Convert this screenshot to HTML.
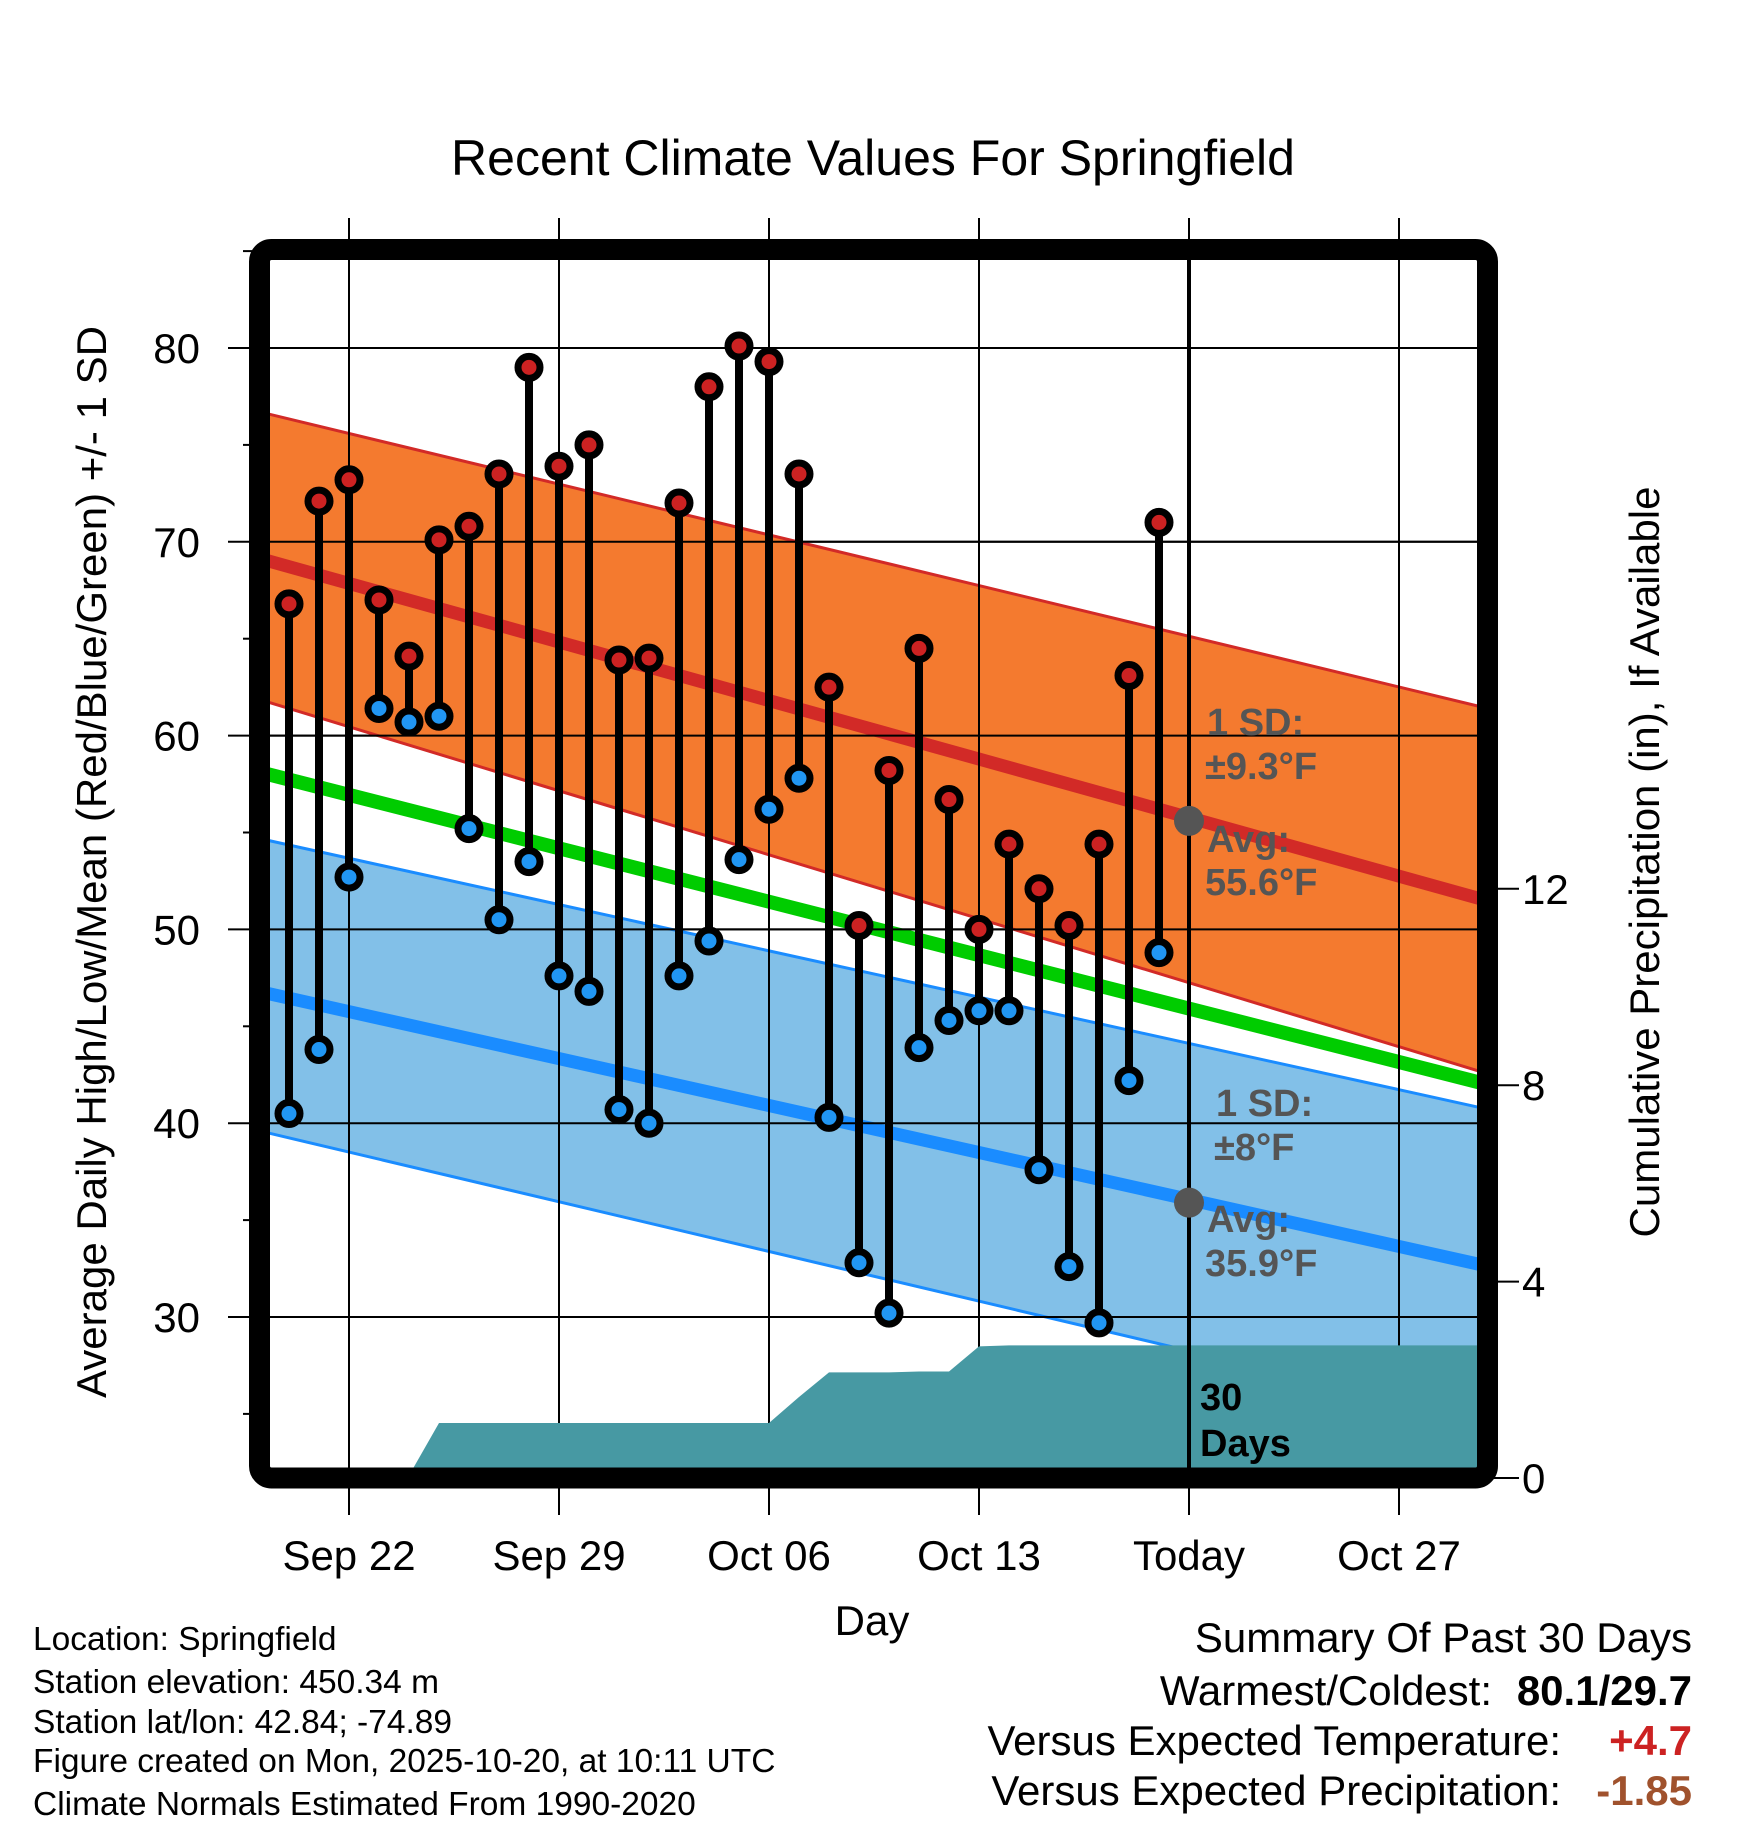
<!DOCTYPE html>
<html><head><meta charset="utf-8"><style>
html,body{margin:0;padding:0;background:#fff}
svg{display:block;font-family:"Liberation Sans",Arial,sans-serif}
</style></head><body>
<svg id="chart" width="1748" height="1828" viewBox="0 0 1748 1828" xmlns="http://www.w3.org/2000/svg">
<defs><clipPath id="plotclip"><rect x="270" y="260" width="1208" height="1208"/></clipPath></defs>
<text x="873" y="175" font-size="50" text-anchor="middle">Recent Climate Values For Springfield</text>
<g id="grid"></g>
<g id="plot" clip-path="url(#plotclip)"></g>
<g id="marks"></g>
<rect x="259.5" y="249.5" width="1228" height="1228.5" rx="12" fill="none" stroke="#000" stroke-width="21"/>
<g id="axes"></g>
<text transform="translate(106,862) rotate(-90)" font-size="42" text-anchor="middle">Average Daily High/Low/Mean (Red/Blue/Green) +/- 1 SD</text>
<text transform="translate(1659,862) rotate(-90)" font-size="42" text-anchor="middle">Cumulative Precipitation (in), If Available</text>
<text x="872" y="1635" font-size="42" text-anchor="middle">Day</text>
<g font-size="33.5">
<text x="33" y="1650">Location: Springfield</text>
<text x="33" y="1693">Station elevation: 450.34 m</text>
<text x="33" y="1733">Station lat/lon: 42.84; -74.89</text>
<text x="33" y="1772">Figure created on Mon, 2025-10-20, at 10:11 UTC</text>
<text x="33" y="1815">Climate Normals Estimated From 1990-2020</text>
</g>
<g font-size="42" text-anchor="end">
<text x="1692" y="1652">Summary Of Past 30 Days</text>
<text x="1492" y="1705">Warmest/Coldest:</text>
<text x="1692" y="1705" font-weight="bold">80.1/29.7</text>
<text x="1561" y="1755">Versus Expected Temperature:</text>
<text x="1692" y="1755" font-weight="bold" fill="#cc2222">+4.7</text>
<text x="1561" y="1805">Versus Expected Precipitation:</text>
<text x="1692" y="1805" font-weight="bold" fill="#a0522d">-1.85</text>
</g>
</svg>
<script>
const dayOffsets = [-2,-1,0,1,2,3,4,5,6,7,8,9,10,11,12,13,14,15,16,17,18,19,20,21,22,23,24,25,26,27];
const highs = [66.8,72.1,73.2,67.0,64.1,70.1,70.8,73.5,79.0,73.9,75.0,63.9,64.0,72.0,78.0,80.1,79.3,73.5,62.5,50.2,58.2,64.5,56.7,50.0,54.4,52.1,50.2,54.4,63.1,71.0];
const lows = [40.5,43.8,52.7,61.4,60.7,61.0,55.2,50.5,53.5,47.6,46.8,40.7,40.0,47.6,49.4,53.6,56.2,57.8,40.3,32.8,30.2,43.9,45.3,45.8,45.8,37.6,32.6,29.7,42.2,48.8];
const precipCum = [0,0,0,0,0.05,1.12,1.12,1.12,1.12,1.12,1.12,1.12,1.12,1.12,1.12,1.12,1.12,1.65,2.15,2.15,2.15,2.17,2.17,2.68,2.7,2.7,2.7,2.7,2.7,2.7];
const xTickDays = [0,7,14,21,28,35];
const xTickLabels = ["Sep 22","Sep 29","Oct 06","Oct 13","Today","Oct 27"];
const yTicks = [30,40,50,60,70,80];
const yMinorTicks = [25,35,45,55,65,75,85];
const pTicks = [0,4,8,12];
// normals at left (day -2.63) and right (day 37.63) edges
const normalEdgeDays = [-2.63,37.63];
const hiMean = [68.9,51.7];
const hiUpper = [76.5,61.6];
const hiLower = [61.6,42.8];
const loMean = [46.6,32.8];
const loUpper = [54.5,40.9];
const loLower = [39.4,24.8];
const meanLine = [57.9,42.2];
const todayDay = 28;
const todayHiAvg = 55.6, todayLoAvg = 35.9;

const NS="http://www.w3.org/2000/svg";
const X = d => 349 + d*30;
const Y = v => 348 + (80 - v)*19.38;
const P = p => 1478 - p*49.1;
function mk(tag, attrs, parent){const e=document.createElementNS(NS,tag);for(const k in attrs)e.setAttribute(k,attrs[k]);parent.appendChild(e);return e;}
const grid=document.getElementById('grid'), plot=document.getElementById('plot'), marks=document.getElementById('marks'), axes=document.getElementById('axes');

xTickDays.forEach((d,i)=>{
  const l=mk('line',{x1:X(d),x2:X(d),y1:218,y2:1515,stroke:'#000','stroke-width':2},grid);
  
  
  const t=mk('text',{x:X(d),y:1570,'font-size':42,'text-anchor':'middle'},axes);
  t.textContent=xTickLabels[i];
  
  
});
yTicks.forEach(v=>{
  const l=mk('line',{x1:228,x2:1478,y1:Y(v),y2:Y(v),stroke:'#000','stroke-width':2},grid);
  
  
  const t=mk('text',{x:200,y:Y(v)+15,'font-size':42,'text-anchor':'end'},axes);
  t.textContent=v;
  
  
});
yMinorTicks.forEach(v=>{
  const l=mk('line',{x1:243,x2:252,y1:Y(v),y2:Y(v),stroke:'#000','stroke-width':2},grid);
  
  
});
pTicks.forEach(p=>{
  const l=mk('line',{x1:1490,x2:1519,y1:P(p),y2:P(p),stroke:'#000','stroke-width':2},axes);
  
  
  const t=mk('text',{x:1522,y:P(p)+15,'font-size':42},axes);
  t.textContent=p;
  
  
});

const xl=X(normalEdgeDays[0])-5, xr=X(normalEdgeDays[1])+5;
function slope(a){return (a[1]-a[0])/(normalEdgeDays[1]-normalEdgeDays[0]);}
function at(a,d){return a[0]+slope(a)*(d-normalEdgeDays[0]);}
function band(up,lo,fill,stroke,name){
  const d=`M${xl},${Y(at(up,-3))} L${xr},${Y(at(up,38))} L${xr},${Y(at(lo,38))} L${xl},${Y(at(lo,-3))} Z`;
  const p=mk('path',{d,fill,stroke:'none'},plot);
  
  
  [up,lo].forEach(a=>{const l=mk('line',{x1:xl,y1:Y(at(a,-3)),x2:xr,y2:Y(at(a,38)),stroke,'stroke-width':3},plot);
    
    });
}
band(loUpper,loLower,'#82c0e8','#1a8cff','low-sd-band');
band(hiUpper,hiLower,'#f47a2f','#d22a27','high-sd-band');
function line(a,color,w,name){const l=mk('line',{x1:xl,y1:Y(at(a,-3)),x2:xr,y2:Y(at(a,38)),stroke:color,'stroke-width':w},plot);
  
  }
line(meanLine,'#00cc00',14,'mean-normal-line');
line(hiMean,'#d22a27',13,'high-normal-line');
line(loMean,'#1a8cff',13,'low-normal-line');

xTickDays.forEach(d=>{const l=mk('line',{x1:X(d),x2:X(d),y1:260,y2:1468,stroke:'#000','stroke-width':2},plot);
  
  });
yTicks.forEach(v=>{const l=mk('line',{x1:270,x2:1478,y1:Y(v),y2:Y(v),stroke:'#000','stroke-width':2},plot);
  
  });

let pd=`M270,${P(0)} L270,${P(precipCum[0])}`;
dayOffsets.forEach((d,i)=>{pd+=` L${X(d)},${P(precipCum[i])}`;});
pd+=` L1478,${P(precipCum[precipCum.length-1])} L1478,1470 L270,1470 Z`;
const pa=mk('path',{d:pd,fill:'#4799a3'},plot);



const tl=mk('line',{x1:X(todayDay),x2:X(todayDay),y1:260,y2:1468,stroke:'#000','stroke-width':4},marks);



dayOffsets.forEach((d,i)=>{
  const s=mk('line',{x1:X(d),x2:X(d),y1:Y(highs[i]),y2:Y(lows[i]),stroke:'#000','stroke-width':8},marks);
  
  
});
dayOffsets.forEach((d,i)=>{
  const h=mk('circle',{cx:X(d),cy:Y(highs[i]),r:11,fill:'#cc2222',stroke:'#000','stroke-width':7},marks);
  
  
  const l=mk('circle',{cx:X(d),cy:Y(lows[i]),r:11,fill:'#2196f3',stroke:'#000','stroke-width':7},marks);
  
  
});
[todayHiAvg,todayLoAvg].forEach(v=>{
  const c=mk('circle',{cx:X(todayDay),cy:Y(v),r:15,fill:'#555'},marks);
  
  
});

const ann=[
 ['1 SD:',1207,735,'#555','high-sd-label'],
 ['±9.3°F',1205,779,'#555','high-sd-value'],
 ['Avg:',1207,852,'#555','high-avg-label'],
 ['55.6°F',1205,895,'#555','high-avg-value'],
 ['1 SD:',1216,1116,'#555','low-sd-label'],
 ['±8°F',1214,1160,'#555','low-sd-value'],
 ['Avg:',1207,1232,'#555','low-avg-label'],
 ['35.9°F',1205,1276,'#555','low-avg-value'],
 ['30',1200,1410,'#000','days-label-number'],
 ['Days',1200,1456,'#000','days-label-text']];
ann.forEach(a=>{
  const t=mk('text',{x:a[1],y:a[2],'font-size':38,'font-weight':'bold',fill:a[3]},marks);
  t.textContent=a[0];
  
  
});
</script>
</body></html>
